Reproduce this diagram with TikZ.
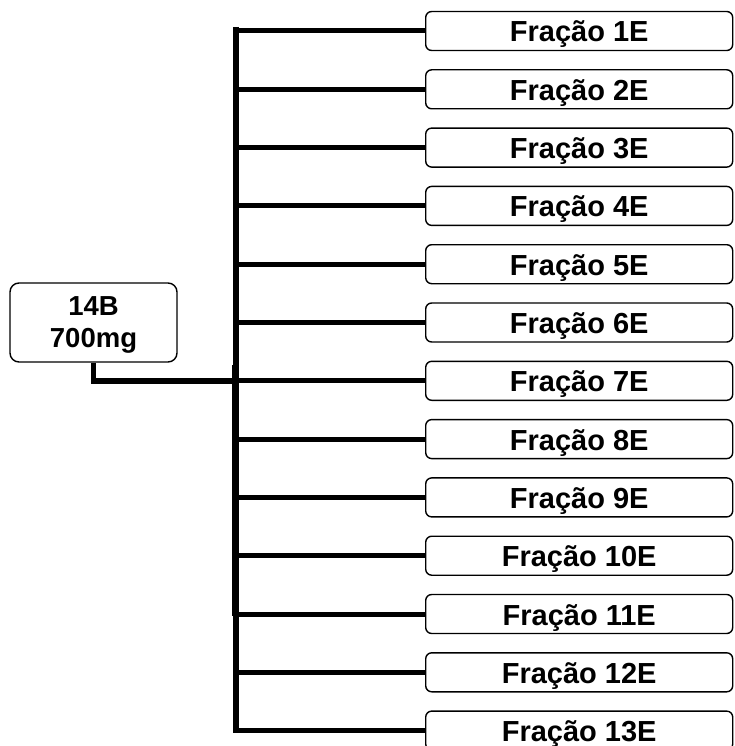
\documentclass[tikz,border=0pt]{standalone}
\usepackage{fontspec}
\setmainfont{Liberation Sans}
\begin{document}
\begin{tikzpicture}[x=1pt,y=-1pt,
  fracbox/.style={draw=black, line width=1.4pt, rounded corners=6pt, minimum width=307pt, minimum height=39pt, inner sep=0pt, text height=22pt, text depth=0pt, font=\fontsize{29}{34}\selectfont\bfseries, anchor=west},
  srcbox/.style={draw=black, line width=1.4pt, rounded corners=9pt, minimum width=167pt, minimum height=79pt, inner sep=0pt, align=center, font=\fontsize{27.5}{32}\selectfont\bfseries},
  conn/.style={line width=5pt}]
\useasboundingbox (0,0) rectangle (734,746);
\clip (0,0) rectangle (734,746);
\node[srcbox] (src) at (93.5,322.5) {\rule{0pt}{24.8pt}14B\\700mg};
\foreach \i in {1,...,13} {
  \node[fracbox] (f\i) at (425,{31+(\i-1)*58.3}) {Fra\c{c}\~ao \i E};
}
\coordinate (trunktop) at (236,27);
\coordinate (trunkbot) at (236,733);
\coordinate (midtop) at (234.5,365);
\coordinate (midbot) at (234.5,616);
\draw[line width=6pt] (trunktop) -- (trunkbot);
\draw[line width=6pt] (midtop) -- (midbot);
\foreach \i in {1,...,13} {
  \draw[conn] (f\i.west -| trunktop) -- (f\i.west);
}
\draw[conn] (f1.west -| trunktop) ++(-3,0) -- (f1.west -| trunktop);
\coordinate (jn) at (236,381);
\draw[line width=5.5pt] (src.south) |- (jn);
\end{tikzpicture}
\end{document}
